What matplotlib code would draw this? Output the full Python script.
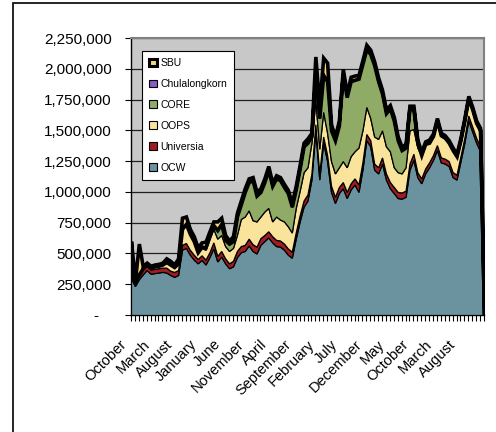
import numpy as np
import matplotlib.pyplot as plt
import matplotlib.transforms as mtransforms
from matplotlib.patches import Patch, Rectangle
from matplotlib.ticker import FuncFormatter, MultipleLocator

plt.rcParams['font.family'] = ['Liberation Sans', 'DejaVu Sans']

# values in thousands of visits, one per category
ocw = [300, 235, 290, 330, 365, 335, 340, 345, 350, 345, 325, 310, 325, 530, 545, 490, 450, 420, 447, 410,
       470, 540, 435, 475, 420, 380, 395, 470, 510, 520, 565, 520, 500, 570, 600, 630, 590, 560, 555, 530,
       490, 465, 620, 760, 880, 930, 1100, 1500, 1100, 1400, 1250, 1000, 910, 990, 1030, 950, 1020, 1060, 1000, 1180,
       1420, 1370, 1180, 1150, 1230, 1100, 1030, 990, 950, 945, 960, 1180, 1260, 1120, 1070, 1150, 1200, 1260, 1340, 1240,
       1230, 1210, 1120, 1100, 1250, 1400, 1580, 1490, 1400, 1330, 0]
universia = [30, 30, 30, 40, 35, 35, 35, 35, 35, 40, 35, 40, 40, 40, 40, 40, 40, 35, 38, 40,
             40, 50, 45, 45, 40, 40, 45, 50, 50, 50, 55, 55, 55, 55, 50, 50, 50, 50, 50, 50,
             50, 50, 50, 50, 50, 50, 50, 50, 50, 50, 50, 50, 50, 50, 50, 50, 50, 50, 60, 60,
             50, 50, 50, 50, 50, 50, 50, 50, 50, 50, 50, 50, 50, 40, 40, 40, 40, 40, 40, 40,
             40, 40, 40, 40, 40, 40, 40, 40, 40, 40, 0]
oops = [10, 5, 10, 10, 10, 15, 20, 20, 25, 45, 50, 40, 55, 130, 155, 130, 110, 55, 60, 80,
        110, 110, 140, 130, 100, 100, 105, 130, 220, 230, 230, 195, 205, 175, 190, 190, 120, 190, 170, 180,
        180, 155, 200, 200, 230, 220, 250, 200, 200, 200, 180, 200, 190, 160, 170, 200, 220, 220, 300, 260,
        220, 180, 220, 230, 220, 220, 250, 160, 160, 155, 190, 270, 200, 200, 190, 200, 160, 155, 200, 180,
        170, 150, 180, 150, 130, 140, 140, 140, 120, 130, 0]
core = [0, 0, 0, 0, 0, 0, 0, 0, 0, 0, 0, 0, 0, 0, 0, 0, 0, 0, 10, 20,
        20, 30, 70, 90, 50, 60, 55, 150, 120, 200, 230, 325, 210, 200, 240, 310, 290, 310, 320, 280,
        270, 210, 150, 180, 210, 200, 50, 200, 250, 300, 420, 250, 270, 340, 710, 570, 610, 580, 560, 540,
        470, 520, 580, 470, 300, 270, 350, 380, 260, 190, 160, 180, 165, 40, 0, 0, 0, 0, 0, 0,
        0, 0, 0, 0, 0, 0, 0, 0, 0, 0, 0]
chulalongkorn = [0] * 91
sbu = [260, 10, 250, 15, 15, 15, 15, 15, 15, 30, 30, 20, 40, 90, 60, 40, 40, 40, 35, 45,
       40, 30, 70, 50, 40, 25, 40, 30, 30, 30, 30, 25, 30, 30, 30, 30, 25, 25, 25, 25,
       25, 30, 30, 30, 30, 35, 30, 150, 100, 140, 150, 50, 30, 40, 40, 30, 35, 35, 30, 30,
       35, 35, 30, 30, 30, 30, 25, 30, 30, 27, 30, 20, 25, 25, 25, 20, 25, 20, 20, 20,
       20, 20, 20, 20, 20, 20, 20, 20, 20, 20, 0]

series_names = ['OCW', 'Universia', 'OOPS', 'CORE', 'Chulalongkorn', 'SBU']
colors = ['#6A929F', '#9E1C22', '#FAE49C', '#8FAB66', '#8A5CC4', '#F6D67A']
month_labels = ['October', 'March', 'August', 'January', 'June', 'November', 'April', 'September',
                'February', 'July', 'December', 'May', 'October', 'March', 'August']
label_every = 6

data = np.array([ocw, universia, oops, core, chulalongkorn, sbu]) * 1000
x = np.arange(data.shape[1])

fig = plt.figure(figsize=(4.96, 4.32), dpi=100)
ax = fig.add_axes([131 / 496, 1 - 315 / 432, 353 / 496, 277 / 432])
ax.set_facecolor('#C8C8C8')

polys = ax.stackplot(x, data, colors=colors, zorder=3)
for p, name in zip(polys, series_names):
    p.set_edgecolor('black')
    p.set_joinstyle('miter')
    p.set_linewidth(2.6 if name == 'SBU' else 0.9)

ax.set_xlim(0, len(x) - 1)
ax.set_ylim(0, 2250000)
ax.yaxis.set_major_locator(MultipleLocator(250000))
ax.yaxis.set_major_formatter(FuncFormatter(lambda v, pos: '-   ' if v == 0 else f'{v:,.0f}'))
ax.grid(axis='y', color='#202020', linewidth=0.9, zorder=1)
ax.set_axisbelow(True)

ax.set_xticks(x, minor=True)
ax.set_xticks(x[::label_every][:len(month_labels)])
ax.set_xticklabels(month_labels, rotation=45, ha='right', rotation_mode='anchor')
ax.tick_params(axis='x', which='both', length=4, width=0.8, direction='out', pad=4, labelsize=10.5)
ax.tick_params(axis='y', length=4, width=0.8, direction='out', pad=10, labelsize=11)

# shift the slanted month labels down and left, as in the original
shift = mtransforms.ScaledTranslation(-12 / 100, -11 / 100, fig.dpi_scale_trans)
for lbl in ax.get_xticklabels():
    lbl.set_transform(lbl.get_transform() + shift)

for s in ['top', 'right']:
    ax.spines[s].set_color('#808080')
    ax.spines[s].set_linewidth(1.5)
for s in ['left', 'bottom']:
    ax.spines[s].set_color('black')
    ax.spines[s].set_linewidth(1)

handles = []
for name, c in zip(series_names, colors):
    handles.append(Patch(facecolor=c, edgecolor='black', linewidth=2.2 if name == 'SBU' else 0.8))
leg = ax.legend(handles[::-1], series_names[::-1], loc='upper left',
                bbox_to_anchor=(0.031, 0.952), fontsize=7.5, frameon=True, fancybox=False,
                edgecolor='black', framealpha=1, labelspacing=1.05, handlelength=0.75,
                handleheight=0.75, handletextpad=0.4, borderpad=0.65, borderaxespad=0)
leg.get_frame().set_linewidth(0.8)
leg.set_zorder(5)

fig.patches.append(Rectangle((13 / 496, -0.1), 1.2, 1.1 - 3 / 432, transform=fig.transFigure,
                             fill=False, edgecolor='black', linewidth=1.2))

fig.savefig('out.png', dpi=100)
